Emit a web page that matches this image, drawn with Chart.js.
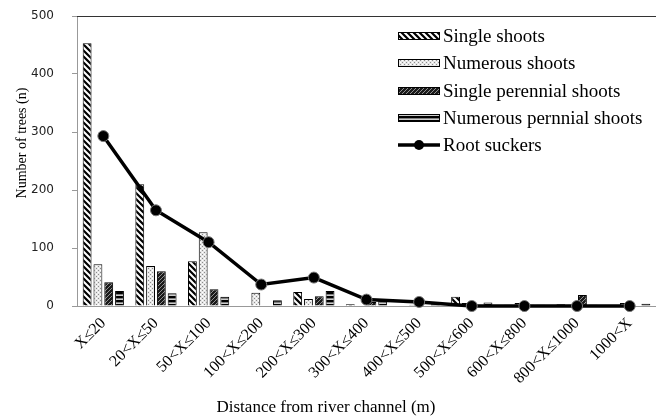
<!DOCTYPE html>
<html>
<head>
<meta charset="utf-8">
<script src="https://cdn.jsdelivr.net/npm/chart.js@4"></script>
<style>
  html, body { margin: 0; padding: 0; background: #fff; overflow: hidden; }
  #wrap { width: 656px; height: 418px; position: relative; }
</style>
</head>
<body>
<div id="wrap"><canvas id="chart"></canvas></div>
<script>
var categories = ['X≤20', '20<X≤50', '50<X≤100', '100<X≤200', '200<X≤300', '300<X≤400',
  '400<X≤500', '500<X≤600', '600<X≤800', '800<X≤1000', '1000<X'];
var seriesNames = ['Single shoots', 'Numerous shoots', 'Single perennial shoots', 'Numerous pernnial shoots', 'Root suckers'];
var singleShoots = [453, 210, 77, 0, 24, 3, 0, 16, 2, 3, 0];
var numerousShoots = [72, 69, 127, 23, 12, 0, 2, 5, 5, 2, 5];
var singlePerennial = [41, 60, 29, 0, 17, 7, 0, 2, 2, 19, 0];
var numerousPerennial = [26, 22, 16, 10, 26, 10, 3, 6, 2, 2, 4];
var rootSuckers = [293, 165, 110, 37, 49, 11, 7, 0, 0, 0, 0];
var yTicks = [0, 100, 200, 300, 400, 500];

var serif = '"Liberation Serif", "Times New Roman", serif';

function makePattern(w, h, draw) {
  var c = document.createElement('canvas');
  c.width = w; c.height = h;
  var g = c.getContext('2d');
  draw(g, w, h);
  return document.getElementById('chart').getContext('2d').createPattern(c, 'repeat');
}

// black with white "\" stripes
var patSingle = makePattern(6, 6, function(g, w, h) {
  g.fillStyle = '#000'; g.fillRect(0, 0, w, h);
  g.strokeStyle = '#fff'; g.lineWidth = 2;
  g.beginPath();
  g.moveTo(-1, -1); g.lineTo(w + 1, h + 1);
  g.moveTo(-1, h - 1); g.lineTo(1, h + 1);
  g.moveTo(w - 1, -1); g.lineTo(w + 1, 1);
  g.stroke();
});
// light checker
var patNumerous = makePattern(4, 4, function(g, w, h) {
  g.fillStyle = '#e6e6e6'; g.fillRect(0, 0, w, h);
  g.fillStyle = '#8c8c8c';
  g.fillRect(0, 0, 1, 1); g.fillRect(2, 2, 1, 1);
  g.fillStyle = '#ffffff';
  g.fillRect(2, 0, 1, 1); g.fillRect(0, 2, 1, 1);
});
// dark "/" stripes
var patSinglePer = makePattern(4, 4, function(g, w, h) {
  g.fillStyle = '#1a1a1a'; g.fillRect(0, 0, w, h);
  g.strokeStyle = '#909090'; g.lineWidth = 1;
  g.beginPath();
  g.moveTo(-1, h + 1); g.lineTo(w + 1, -1);
  g.stroke();
});
// horizontal black/white stripes
var patNumerousPer = makePattern(4, 4, function(g, w, h) {
  g.fillStyle = '#000'; g.fillRect(0, 0, w, h);
  g.fillStyle = '#fff'; g.fillRect(0, 2.5, w, 1.3);
});

var barFills = [patSingle, patNumerous, patSinglePer, patNumerousPer];
var barData = [singleShoots, numerousShoots, singlePerennial, numerousPerennial];

var datasets = [{
  type: 'line',
  label: seriesNames[4],
  data: rootSuckers,
  borderColor: '#000',
  borderWidth: 3.5,
  pointRadius: 5.5,
  pointBackgroundColor: '#000',
  pointBorderColor: '#777',
  pointBorderWidth: 1,
  tension: 0,
  clip: false,
  order: 0
}];
barData.forEach(function(d, i) {
  datasets.push({
    type: 'bar',
    label: seriesNames[i],
    data: d,
    backgroundColor: barFills[i],
    borderColor: '#000',
    borderWidth: 1,
    categoryPercentage: 0.82,
    barPercentage: 0.82,
    order: 1
  });
});

var extras = {
  id: 'extras',
  afterDraw: function(chart) {
    var ctx = chart.ctx, area = chart.chartArea;
    ctx.save();
    // top border
    ctx.strokeStyle = '#333'; ctx.lineWidth = 1.2;
    ctx.beginPath(); ctx.moveTo(area.left, area.top + 0.5); ctx.lineTo(area.right, area.top + 0.5); ctx.stroke();

    // legend
    var lx = 398, sw = 42, sh = 8, ys = [36, 63, 91, 118, 145];
    ctx.font = '19px ' + serif;
    ctx.textBaseline = 'middle';
    for (var i = 0; i < 5; i++) {
      var y = ys[i];
      if (i < 4) {
        ctx.fillStyle = barFills[i];
        ctx.fillRect(lx, y - sh / 2, sw, sh);
        ctx.strokeStyle = '#000'; ctx.lineWidth = 1;
        ctx.strokeRect(lx + 0.5, y - sh / 2 + 0.5, sw - 1, sh - 1);
      } else {
        ctx.strokeStyle = '#000'; ctx.lineWidth = 3.5;
        ctx.beginPath(); ctx.moveTo(lx, y); ctx.lineTo(lx + sw, y); ctx.stroke();
        ctx.fillStyle = '#000';
        ctx.beginPath(); ctx.arc(lx + sw / 2, y, 5, 0, Math.PI * 2); ctx.fill();
      }
      ctx.fillStyle = '#000';
      ctx.fillText(seriesNames[i], lx + sw + 3, y + 1);
    }

    // axis titles
    ctx.font = '17px ' + serif;
    ctx.textAlign = 'center';
    ctx.fillText('Distance from river channel (m)', 326, 408);
    ctx.font = '14px ' + serif;
    ctx.translate(22, 143);
    ctx.rotate(-Math.PI / 2);
    ctx.fillText('Number of trees (n)', 0, 0);
    ctx.restore();
  }
};

new Chart(document.getElementById('chart'), {
  data: { labels: categories, datasets: datasets },
  options: {
    responsive: true,
    maintainAspectRatio: false,
    animation: false,
    layout: { autoPadding: false, padding: { top: 16, right: 0, left: 0, bottom: 0 } },
    plugins: { legend: { display: false }, tooltip: { enabled: false } },
    scales: {
      x: {
        offset: true,
        grid: { display: true, drawOnChartArea: false, drawTicks: false, color: '#999' },
        border: { color: '#999' },
        ticks: {
          autoSkip: false, maxRotation: 45, minRotation: 45, padding: 8,
          color: '#000', font: { family: serif, size: 16 }
        },
        afterFit: function(s) { s.height = 112; s.paddingRight = 0; s.paddingLeft = 0; }
      },
      y: {
        min: 0, max: 500,
        afterBuildTicks: function(s) { s.ticks = yTicks.map(function(v) { return { value: v }; }); },
        grid: { display: true, drawOnChartArea: false, drawTicks: true, tickLength: 5, color: '#999' },
        border: { color: '#999' },
        ticks: { padding: 18, color: '#222', font: { family: '"DejaVu Sans", Verdana, sans-serif', size: 12 } },
        afterFit: function(s) { s.width = 77; s.paddingTop = 0; s.paddingBottom = 0; }
      }
    }
  },
  plugins: [extras]
});
</script>
</body>
</html>
